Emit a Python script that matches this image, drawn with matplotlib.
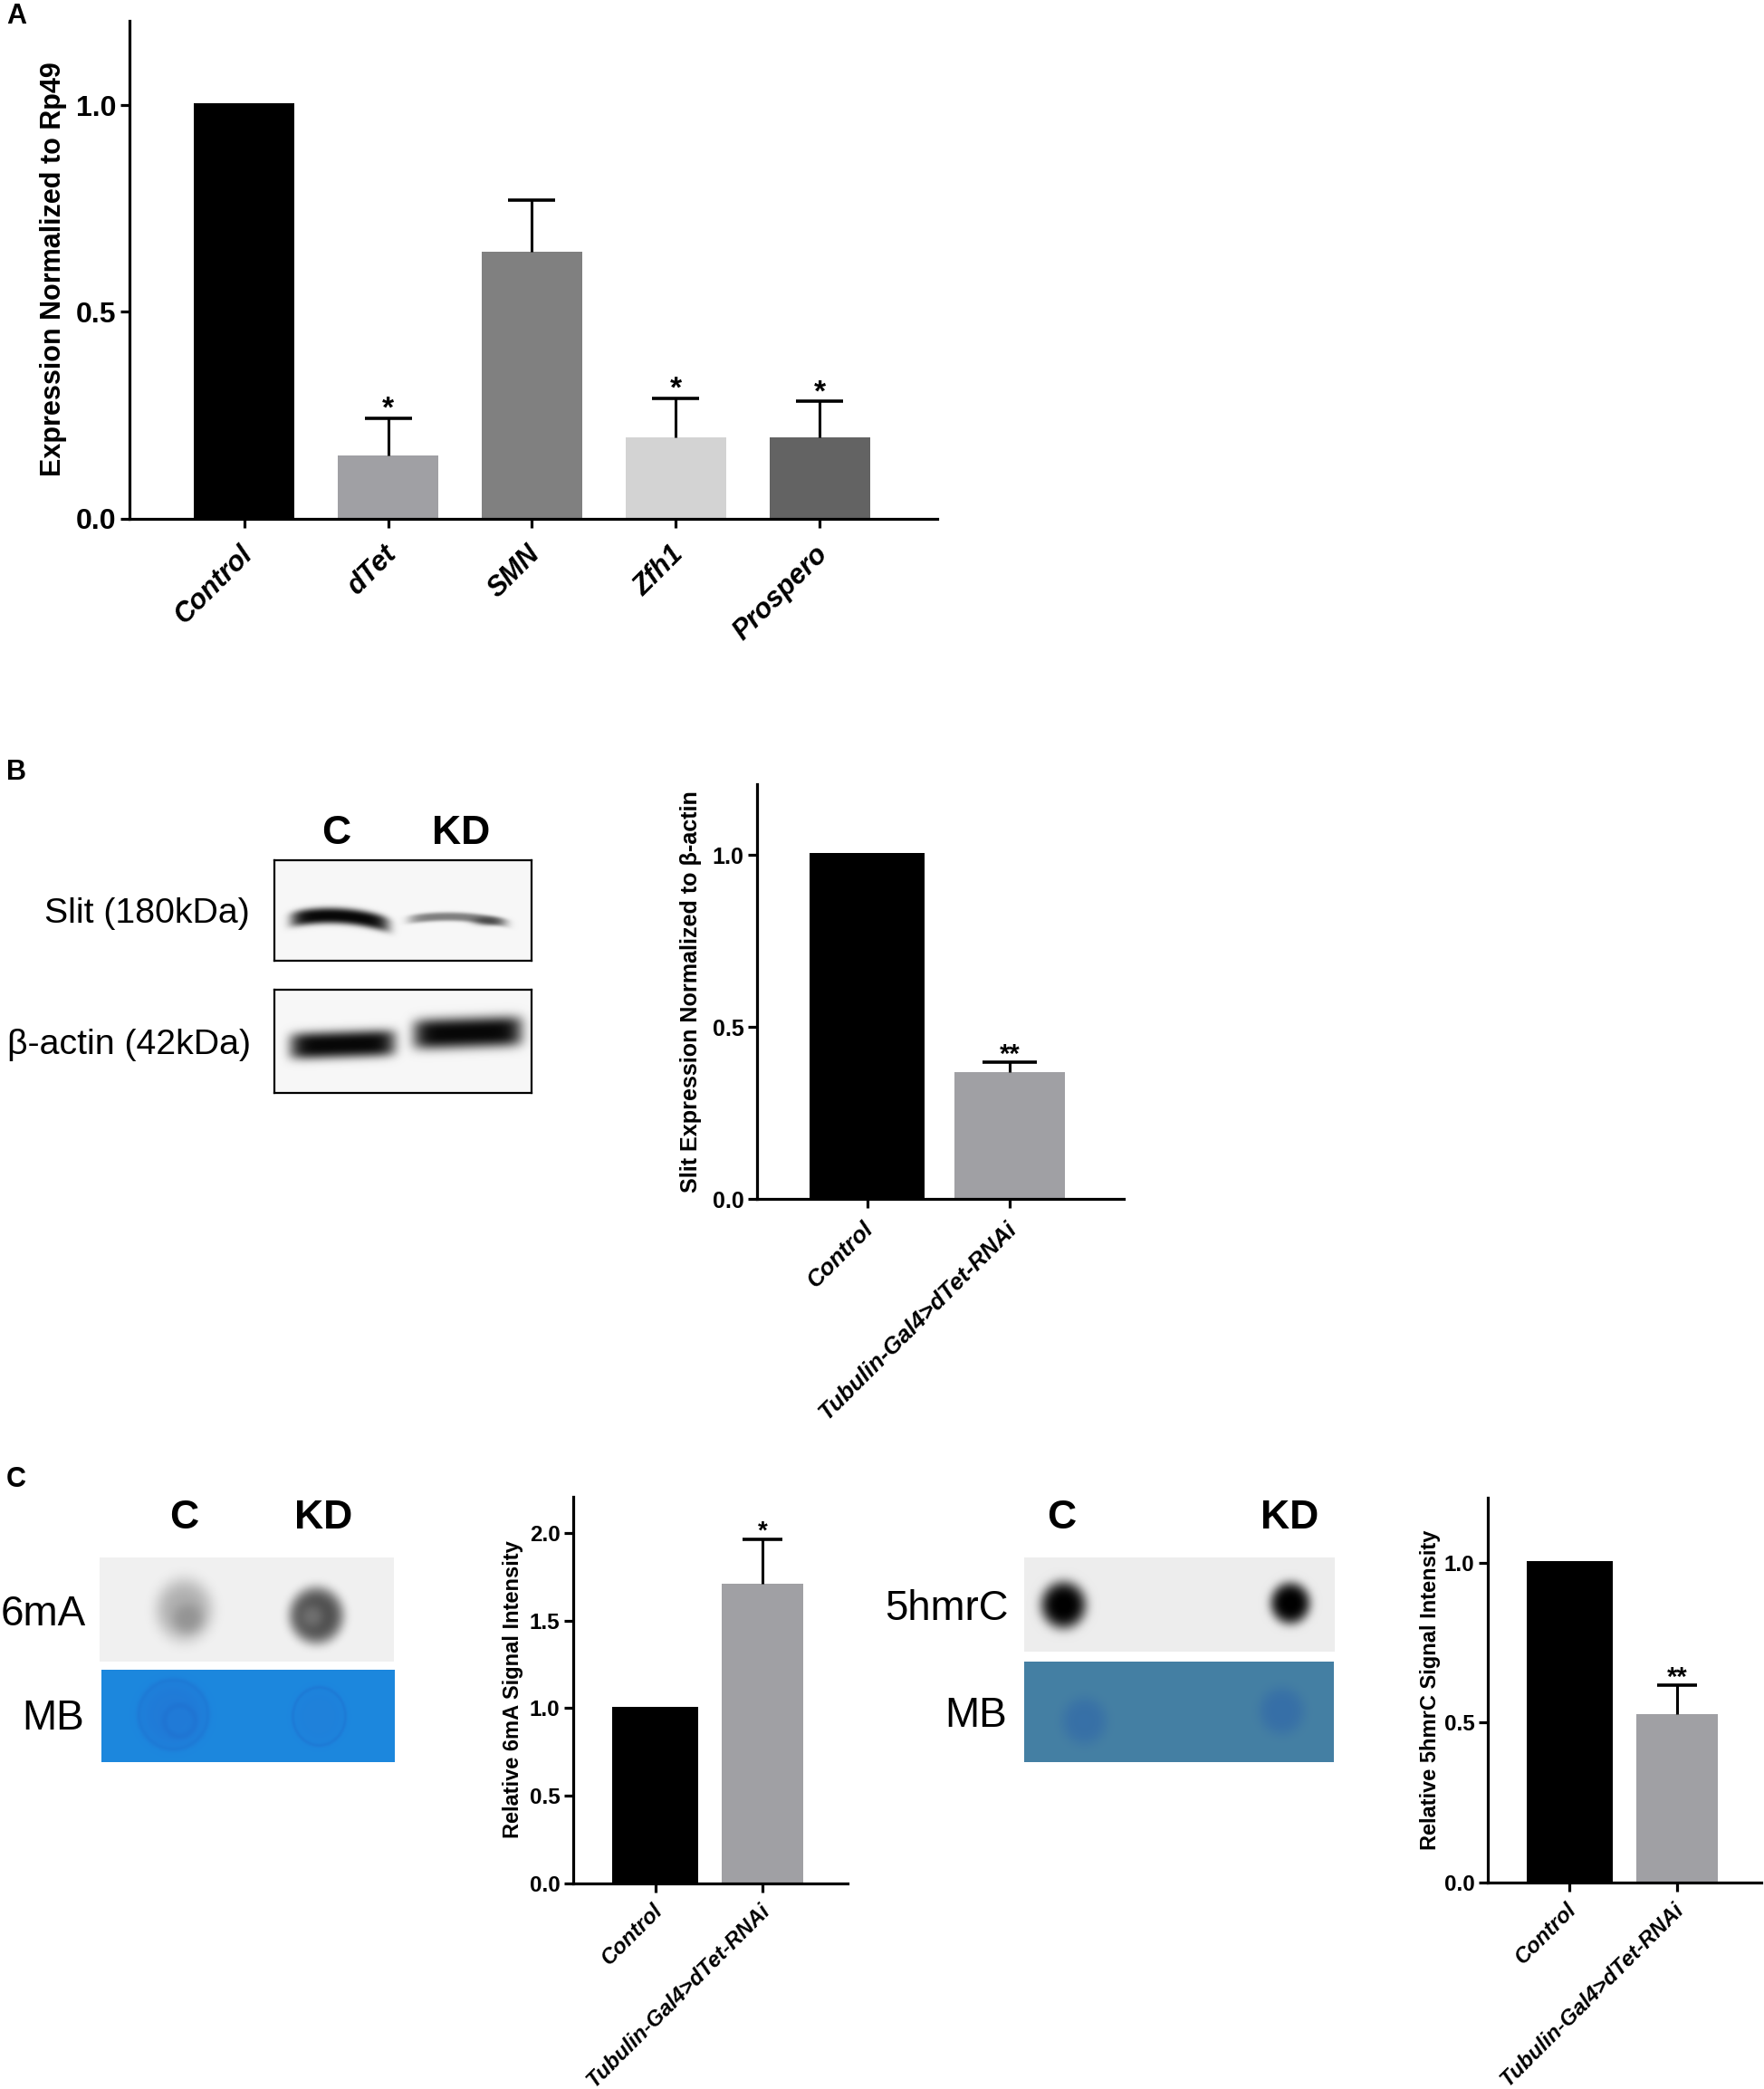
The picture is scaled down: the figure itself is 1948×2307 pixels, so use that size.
import numpy as np
import matplotlib
matplotlib.use("Agg")
import matplotlib.pyplot as plt
from matplotlib.transforms import ScaledTranslation

plt.rcParams['font.family'] = ['Liberation Sans', 'DejaVu Sans']

W, H = 1949, 2307
DPI = 100

# ---- data ----
a_labels = ['Control', 'dTet', 'SMN', 'Zfh1', 'Prospero']
a_values = [1.005, 0.152, 0.645, 0.197, 0.197]
a_upper = [None, 0.242, 0.77, 0.29, 0.283]
a_stars = ['', '*', '', '*', '*']
a_colors = ['#000000', '#a0a0a4', '#808080', '#d3d3d3', '#636363']

pair_labels = ['Control', 'Tubulin-Gal4>dTet-RNAi']
pair_colors = ['#000000', '#a0a0a4']

b_values = [1.006, 0.368]
b_upper = [None, 0.398]
b_stars = ['', '**']

c1_values = [1.01, 1.71]
c1_upper = [None, 1.967]
c1_stars = ['', '*']

c2_values = [1.006, 0.527]
c2_upper = [None, 0.617]
c2_stars = ['', '**']

fig = plt.figure(figsize=(W / DPI, H / DPI), dpi=DPI, facecolor='white')


def px_axes(x0, y0, x1, y1, **kw):
    return fig.add_axes([x0 / W, 1 - y1 / H, (x1 - x0) / W, (y1 - y0) / H], **kw)


def px_text(x, y, s, **kw):
    return fig.text(x / W, 1 - y / H, s, **kw)


def bar_chart(box, xlim, ymax, yticks, values, upper, stars, labels, colors, widths,
              ylabel, ylab_pos, ylab_size, tick_size, xt_size, cap_pt, star_size, star_off,
              pad, xt_shift):
    x0, y0, x1, y1 = box
    ax = px_axes(x0, y0, x1, y1)
    ax.patch.set_alpha(0)
    xs = np.arange(len(values))
    ax.bar(xs, values, width=widths, color=colors, linewidth=0, zorder=2)
    for x, v, u, s in zip(xs, values, upper, stars):
        if u is None:
            continue
        eb = ax.errorbar([x], [v], yerr=[[0], [u - v]], color='black', elinewidth=2.2,
                         capsize=cap_pt, capthick=2.6, zorder=3, clip_on=False)
        eb[1][0].set_visible(False)
        ax.annotate(s, (x, u), xytext=(0, star_off), textcoords='offset points',
                    ha='center', va='center', fontsize=star_size, fontweight='bold',
                    annotation_clip=False)
    ax.set_xlim(*xlim)
    ax.set_ylim(0, ymax)
    for sp in ('top', 'right'):
        ax.spines[sp].set_visible(False)
    for sp in ('left', 'bottom'):
        ax.spines[sp].set_linewidth(2.3)
    ax.set_yticks(yticks)
    ax.set_yticklabels([f'{t:.1f}' for t in yticks], fontsize=tick_size, fontweight='bold')
    ax.set_xticks(xs)
    ax.set_xticklabels(labels, fontsize=xt_size, fontweight='bold', fontstyle='italic',
                       rotation=45, ha='right', va='top', rotation_mode='anchor')
    ax.tick_params(axis='both', width=2.3, length=7.5)
    ax.tick_params(axis='x', pad=pad)
    ax.tick_params(axis='y', pad=3)
    shift = ScaledTranslation(xt_shift / DPI, 0, fig.dpi_scale_trans)
    for lab in ax.get_xticklabels():
        lab.set_transform(lab.get_transform() + shift)
    px_text(ylab_pos[0], ylab_pos[1], ylabel, rotation=90, ha='center', va='center',
            fontsize=ylab_size, fontweight='bold')
    return ax


def spots(x0, y0, x1, y1, base, blobs=(), rings=(), bands=(), line=False):
    """Small picture: base colour with soft elliptical marks, thin rings and bands."""
    yy, xx = np.mgrid[y0:y1, x0:x1].astype(float)
    img = np.ones(yy.shape + (3,)) * np.array(base, float)

    def lay(image, m, col):
        return image * (1 - m[..., None]) + np.array(col, float) * m[..., None]

    for cx, cy, rx, ry, col, amt, power in blobs:
        d = ((xx - cx) / rx) ** 2 + ((yy - cy) / ry) ** 2
        img = lay(img, amt * np.exp(-d ** power), col)
    for cx, cy, rx, ry, col, amt, w in rings:
        d = np.sqrt(((xx - cx) / rx) ** 2 + ((yy - cy) / ry) ** 2)
        img = lay(img, amt * np.exp(-((d - 1) / w) ** 2), col)
    for cx, cy, rx, ry, bow, tilt, col, amt in bands:
        t = (xx - cx) / rx
        mid = cy + bow * t ** 2 + tilt * t
        m = amt * np.exp(-t ** 8) * np.exp(-(np.abs(yy - mid) / ry) ** 3)
        img = lay(img, m, col)
    ax = px_axes(x0, y0, x1, y1)
    ax.imshow(np.clip(img, 0, 1), aspect='auto', interpolation='bilinear')
    ax.set_xticks([])
    ax.set_yticks([])
    for sp in ax.spines.values():
        sp.set_visible(line)
        sp.set_linewidth(1.6)
    return ax


# ---- panel A ----
bar_chart((143, 23, 1035, 572.5), (-0.796, 4.815), 1.204, [0, 0.5, 1.0],
          a_values, a_upper, a_stars, a_labels, a_colors, 0.70,
          'Expression Normalized to Rp49', (59, 297), 22, 23, 22, 19, 24, 7, 10, -6)

# ---- panel B ----
bar_chart((836, 866.5, 1241, 1324), (-0.772, 1.80), 1.204, [0, 0.5, 1.0],
          b_values, b_upper, b_stars, pair_labels, pair_colors, [0.807, 0.772],
          'Slit Expression Normalized to β-actin', (763, 1095), 18.1, 18, 18.6, 21.6, 21, 5.5,
          7.5, -5)

# ---- panel C charts ----
bar_chart((633, 1653, 935.6, 2079.7), (-0.767, 1.788), 2.208, [0, 0.5, 1.0, 1.5, 2.0],
          c1_values, c1_upper, c1_stars, pair_labels, pair_colors, [0.80, 0.76],
          'Relative 6mA Signal Intensity', (567, 1866), 17, 17.5, 17.2, 16, 20, 5.5, 6, -4)
bar_chart((1643, 1654, 1945, 2078.8), (-0.762, 1.787), 1.203, [0, 0.5, 1.0],
          c2_values, c2_upper, c2_stars, pair_labels, pair_colors, [0.80, 0.76],
          'Relative 5hmrC Signal Intensity', (1580, 1866), 17, 17.5, 17.2, 16, 21, 5.5, 6, -4)

# ---- blots ----
ink = (0.03, 0.03, 0.03)
spots(303, 950, 587, 1061, (0.97, 0.97, 0.97), bands=[
    (375, 1011, 54, 9, 7, 3, ink, 1.0),
    (505, 1012, 54, 5, 5, 2, ink, 0.5),
], blobs=[
    (538, 1017, 17, 5, ink, 0.45, 1.3),
], line=True)
spots(303, 1093, 587, 1207, (0.97, 0.97, 0.97), bands=[
    (378, 1153, 58, 15, 0, -2, ink, 1.0),
    (516, 1140, 60, 17, 0, -2, ink, 1.0),
], line=True)

spots(110, 1720, 435, 1835, (0.945, 0.945, 0.945), [
    (203, 1778, 31, 34, (0.62, 0.62, 0.62), 0.8, 2.0),
    (207, 1787, 16, 16, (0.50, 0.50, 0.50), 0.55, 1.5),
    (349, 1784, 30, 31, (0.30, 0.30, 0.30), 1.0, 2.5),
    (344, 1785, 13, 13, (0.52, 0.52, 0.52), 0.6, 1.2),
])
blue = (0.11, 0.53, 0.87)
mark = (0.12, 0.42, 0.80)
spots(112, 1844, 436, 1946, blue, [
    (191, 1893, 38, 38, (0.13, 0.47, 0.84), 0.8, 3.0),
    (352, 1895, 29, 32, (0.13, 0.49, 0.85), 0.6, 3.0),
], rings=[
    (191, 1893, 38, 38, mark, 0.3, 0.08),
    (198, 1900, 17, 17, mark, 0.35, 0.22),
    (352, 1895, 29, 32, mark, 0.35, 0.07),
])

spots(1131, 1720, 1474, 1824, (0.93, 0.93, 0.93), [
    (1174, 1772, 25, 26, (0, 0, 0), 1.0, 2.0),
    (1424.5, 1770, 22, 23, (0, 0, 0), 1.0, 2.0),
])
teal = (0.27, 0.50, 0.64)
spots(1131, 1835, 1473, 1946, teal, [
    (1197, 1900, 25, 26, (0.20, 0.42, 0.66), 0.75, 2.0),
    (1415, 1889, 25, 26, (0.20, 0.42, 0.66), 0.8, 2.0),
])

# ---- picture labels ----
for x, y, s in [(371, 921, 'C'), (509, 921, 'KD'), (203, 1677, 'C'), (357, 1677, 'KD'),
                (1172, 1677, 'C'), (1424, 1677, 'KD')]:
    px_text(x, y, s, ha='center', va='center', fontsize=32, fontweight='bold')
for x, y, s, size in [(276, 1009, 'Slit (180kDa)', 28.3), (277, 1154, 'β-actin (42kDa)', 28.3),
                      (95, 1783, '6mA', 33), (93, 1898, 'MB', 33),
                      (1114, 1777, '5hmrC', 32.8), (1112, 1895, 'MB', 33)]:
    px_text(x, y, s, ha='right', va='center', fontsize=size)

for y, s in [(18, 'A'), (853, 'B'), (1634, 'C')]:
    px_text(7, y, s, ha='left', va='center', fontsize=22, fontweight='bold')

fig.savefig('out.png', dpi=DPI, facecolor='white')
